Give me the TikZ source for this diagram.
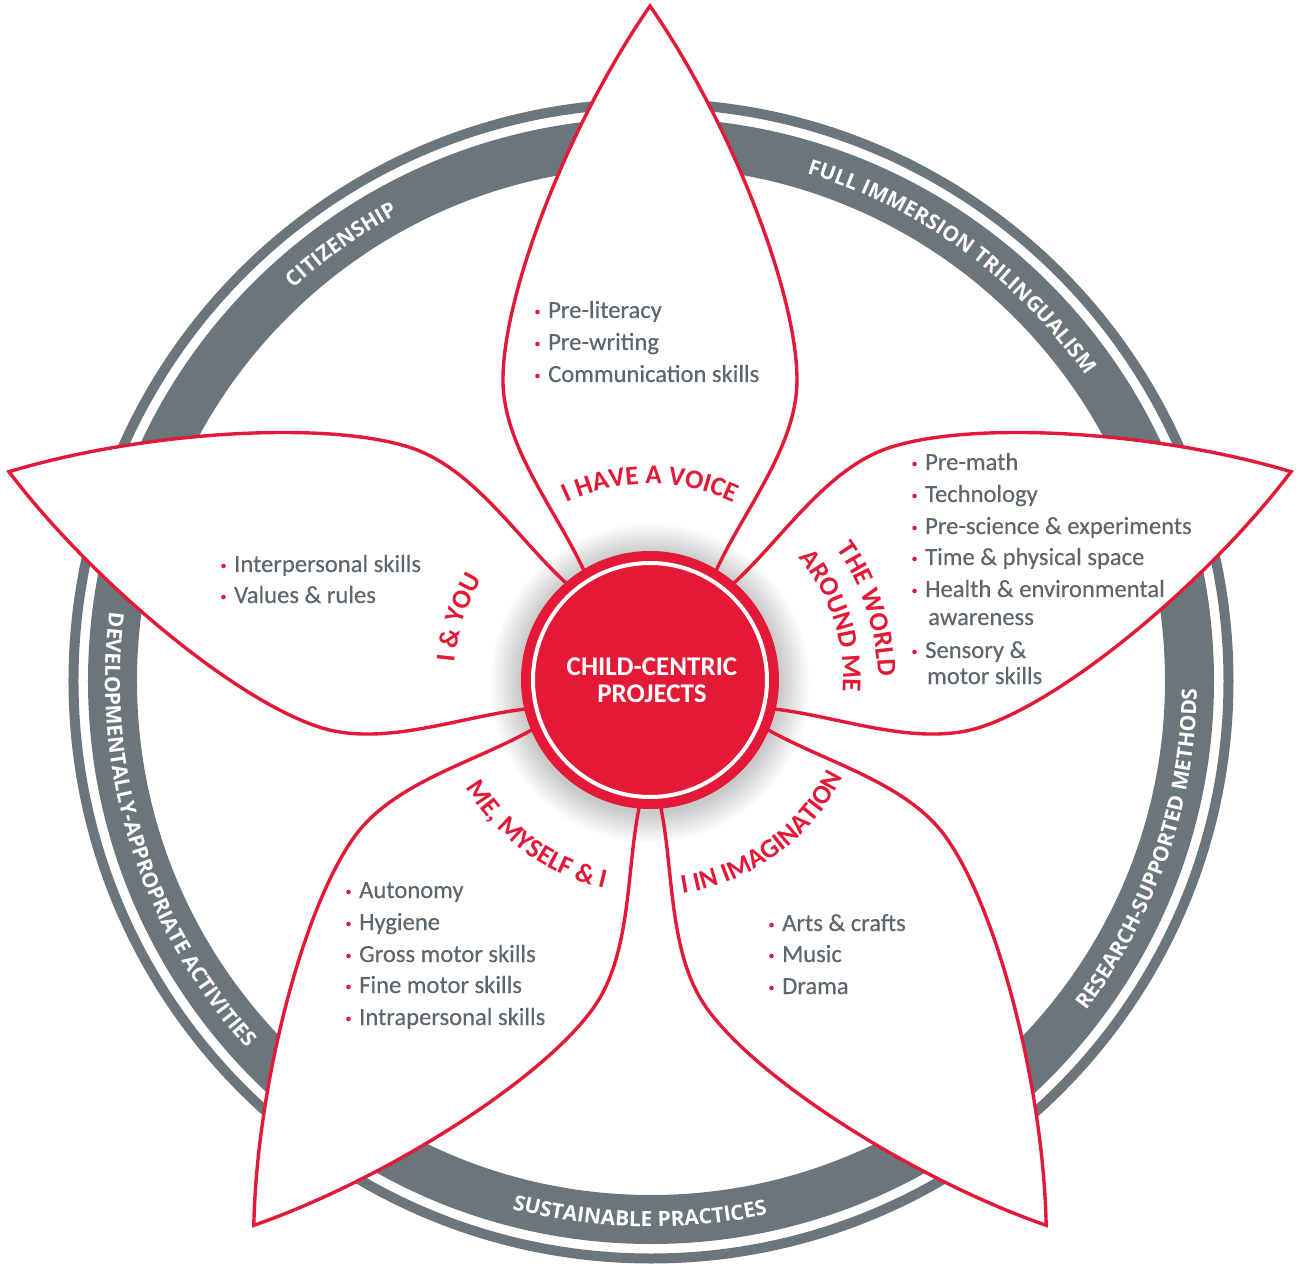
\documentclass[tikz,border=0pt]{standalone}
\usepackage{fontspec}
\setmainfont{Carlito}
\newfontfamily\myRingFam{Open Sans}
\newfontfamily\myItemFam{Carlito}[FakeBold=0.35]
\usetikzlibrary{decorations.text}
\definecolor{petred}{HTML}{E31937}
\definecolor{ringgray}{HTML}{6B767C}
\definecolor{itemgray}{HTML}{5B666D}
\newcommand{\myItemFont}{\myItemFam\fontsize{24.6}{30}\selectfont}
\newcommand{\myLabFont}{\bfseries\fontsize{27}{30}\selectfont}
\newcommand{\myRingFont}{\myRingFam\bfseries\fontsize{21}{24}\selectfont}
\newcommand{\myItem}[4]{%
  \fill[petred] ({#2-10.5},{#3+6}) circle (2.3);
  \node[itemtxt] (#1) at (#2,#3) {#4};}
\newcommand{\myCont}[4]{\node[itemtxt] (#1) at (#2,#3) {#4};}
\tikzset{
  itemtxt/.style={anchor=base west, inner sep=0pt, text=itemgray, font=\myItemFont},
  lab/.style={decorate, decoration={text along path, text align=center, text color=petred, text={|\myLabFont|#1}}},
  ringlab/.style={decorate, decoration={text along path, text align=center, text color=white, text={|\myRingFont|#1}}},
}
\begin{document}
\begin{tikzpicture}[x=1pt,y=1pt]
\useasboundingbox (-650,-584) rectangle (649,680);
% ring
\begin{scope}[shift={(1,-1)}]
  \draw[ringgray, line width=10] (0,0) circle (577.5);
  \draw[ringgray, line width=49] (0,0) circle (538.5);
  \path[ringlab={CITIZENSHIP}] (175.4:531) arc[start angle=175.4, end angle=75.4, radius=531];
  \path[ringlab={FULL IMMERSION TRILINGUALISM}] (104:531) arc[start angle=104, end angle=4, radius=531];
  \path[ringlab={RESEARCH-SUPPORTED METHODS}] (-69:546) arc[start angle=-69, end angle=31, radius=546];
  \path[ringlab={SUSTAINABLE PRACTICES}] (218.8:546) arc[start angle=218.8, end angle=318.8, radius=546];
  \path[ringlab={DEVELOPMENTALLY-APPROPRIATE ACTIVITIES}] (147.5:546) arc[start angle=147.5, end angle=247.5, radius=546];
\end{scope}
% petal fills
\foreach \a in {0,72,144,216,288}{
  \fill[white, rotate=\a] (-60,95) .. controls (-85,160) and (-147,228) .. (-147,300)
     .. controls (-147,390) and (-78,562) .. (0,674)
     .. controls (78,562) and (147,390) .. (147,300)
     .. controls (147,228) and (85,160) .. (60,95);
}
% shadow
\foreach \i in {1,...,18}{
  \fill[black, opacity=0.011] (0,-3) circle ({129+1.7*\i});
}
% petal outlines
\foreach \a in {0,72,144,216,288}{
  \draw[petred, line width=3.4, rotate=\a] (-60,95) .. controls (-85,160) and (-147,228) .. (-147,300)
     .. controls (-147,390) and (-78,562) .. (0,674)
     .. controls (78,562) and (147,390) .. (147,300)
     .. controls (147,228) and (85,160) .. (60,95);
}
% centre
\fill[petred] (0,0) circle (129);
\draw[white, line width=4] (0,0) circle (117);
\node[font=\myLabFont, text=white, anchor=base, inner sep=0pt] (c1) at (2,5) {CHILD-CENTRIC};
\node[font=\myLabFont, text=white, anchor=base, inner sep=0pt] (c2) at (2,-22) {PROJECTS};
% petal labels
\path[lab={I HAVE A VOICE}] (150:196) arc[start angle=150, end angle=30, radius=196];
\path[lab={I {\&} YOU}] (222:196) arc[start angle=222, end angle=102, radius=196];
\path[lab={THE WORLD}] (78:228) arc[start angle=78, end angle=-42, radius=228];
\path[lab={AROUND ME}] (78:193) arc[start angle=78, end angle=-42, radius=193];
\path[lab={ME, MYSELF {\&} I}] (174:213) arc[start angle=174, end angle=294, radius=213];
\path[lab={I IN IMAGINATION}] (246:216) arc[start angle=246, end angle=366, radius=216];
% items: top petal
\myItem{a1}{-102}{362}{Pre-literacy}
\myItem{a2}{-102}{330}{Pre-writing}
\myItem{a3}{-102}{298}{Communication skills}
% right petal
\myItem{b1}{275}{210}{Pre-math}
\myItem{b2}{275}{178}{Technology}
\myItem{b3}{275}{146}{Pre-science \& experiments}
\myItem{b4}{275}{115}{Time \& physical space}
\myItem{b5}{275}{83}{Health \& environmental}
\myCont{b5b}{278}{55}{awareness}
\myItem{b6}{275}{22}{Sensory \&}
\myCont{b6b}{277}{-4}{motor skills}
% left petal
\myItem{l1}{-416}{108}{Interpersonal skills}
\myItem{l2}{-416}{77}{Values \& rules}
% bottom-left petal
\myItem{m1}{-291}{-218}{Autonomy}
\myItem{m2}{-291}{-250}{Hygiene}
\myItem{m3}{-291}{-282}{Gross motor skills}
\myItem{m4}{-291}{-313}{Fine motor skills}
\myItem{m5}{-291}{-345}{Intrapersonal skills}
% bottom-right petal
\myItem{r1}{132}{-251}{Arts \& crafts}
\myItem{r2}{132}{-282}{Music}
\myItem{r3}{132}{-314}{Drama}
\end{tikzpicture}
\end{document}
